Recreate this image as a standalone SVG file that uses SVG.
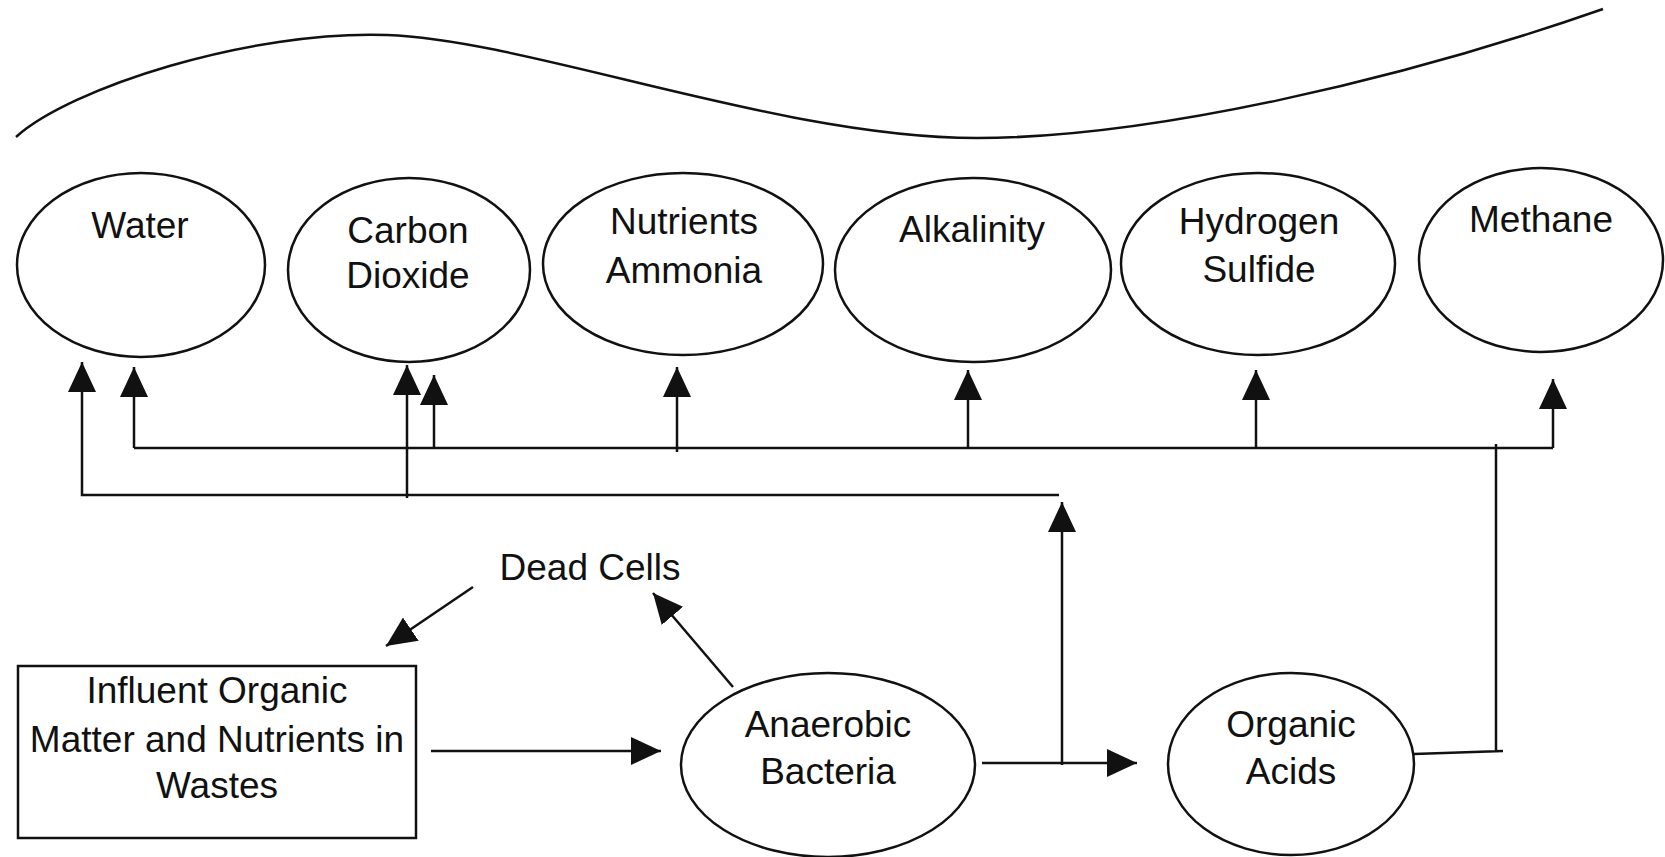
<svg xmlns="http://www.w3.org/2000/svg" width="1665" height="857" viewBox="0 0 1665 857">
  <style>
    .node { fill: #fff; stroke: #111; stroke-width: 2.5; }
    .label { font-family: "Liberation Sans", Arial, sans-serif; font-size: 37px; fill: #111; text-anchor: middle; }
    .wire { fill: none; stroke: #111; stroke-width: 2.5; }
    .arrow { fill: none; stroke: #111; stroke-width: 2.5; marker-end: url(#head); }
  </style>
  <defs>
    <marker id="head" viewBox="0 0 30 28" refX="30" refY="14" markerWidth="30" markerHeight="28" markerUnits="userSpaceOnUse" orient="auto">
      <path d="M0,0 L30,14 L0,28 Z" fill="#111"/>
    </marker>
  </defs>
  <rect width="1665" height="857" fill="#fff"/>

  <!-- water surface -->
  <path id="surface" class="wire" stroke-width="3" d="M16,137 C70,88 250,30 387,35 C530,40 780,138 977,138 C1150,138 1400,80 1603,9"/>

  <!-- products -->
  <g id="water">
    <ellipse class="node" cx="141" cy="265" rx="124" ry="92"/>
    <text class="label" x="140" y="238">Water</text>
  </g>
  <g id="carbon-dioxide">
    <ellipse class="node" cx="409" cy="270" rx="121" ry="92"/>
    <text class="label" x="408" y="243">Carbon</text>
    <text class="label" x="408" y="288">Dioxide</text>
  </g>
  <g id="nutrients-ammonia">
    <ellipse class="node" cx="683" cy="264" rx="140" ry="91"/>
    <text class="label" x="684" y="234">Nutrients</text>
    <text class="label" x="684" y="283">Ammonia</text>
  </g>
  <g id="alkalinity">
    <ellipse class="node" cx="973" cy="270" rx="138" ry="92"/>
    <text class="label" x="972" y="242">Alkalinity</text>
  </g>
  <g id="hydrogen-sulfide">
    <ellipse class="node" cx="1258" cy="264" rx="137" ry="91"/>
    <text class="label" x="1259" y="234">Hydrogen</text>
    <text class="label" x="1259" y="282">Sulfide</text>
  </g>
  <g id="methane">
    <ellipse class="node" cx="1541" cy="260" rx="122" ry="92"/>
    <text class="label" x="1541" y="232">Methane</text>
  </g>

  <!-- process -->
  <g id="influent">
    <rect class="node" x="18" y="666" width="398" height="172"/>
    <text class="label" x="217" y="703">Influent Organic</text>
    <text class="label" x="217" y="752">Matter and Nutrients in</text>
    <text class="label" x="217" y="798">Wastes</text>
  </g>
  <g id="dead-cells">
    <text class="label" x="590" y="580">Dead Cells</text>
  </g>
  <g id="anaerobic-bacteria">
    <ellipse class="node" cx="828" cy="765" rx="147" ry="92"/>
    <text class="label" x="828" y="737">Anaerobic</text>
    <text class="label" x="828" y="784">Bacteria</text>
  </g>
  <g id="organic-acids">
    <ellipse class="node" cx="1291" cy="764" rx="123" ry="91"/>
    <text class="label" x="1291" y="737">Organic</text>
    <text class="label" x="1291" y="784">Acids</text>
  </g>

  <g id="connectors">
    <!-- lower bus to water and carbon dioxide -->
    <path class="arrow" d="M1059,495 H82 V362"/>
    <path class="arrow" d="M407,498 V365"/>
    <!-- upper bus from organic acids -->
    <path class="wire" d="M134,448 H1553"/>
    <path class="arrow" d="M134,448 V367"/>
    <path class="arrow" d="M434,448 V375"/>
    <path class="arrow" d="M677,452 V367"/>
    <path class="arrow" d="M968,448 V370"/>
    <path class="arrow" d="M1256,448 V370"/>
    <path class="arrow" d="M1553,448 V379"/>
    <path class="wire" d="M1414,754 L1503,751 M1496,752 V444"/>
    <!-- bacteria outputs -->
    <path class="arrow" d="M1062,765 V502"/>
    <path class="arrow" d="M982,763 H1137"/>
    <path class="arrow" d="M431,751 H661" stroke-width="3"/>
    <path class="arrow" d="M733,687 L653,593"/>
    <path class="arrow" d="M473,587 L386,646"/>
  </g>
</svg>
